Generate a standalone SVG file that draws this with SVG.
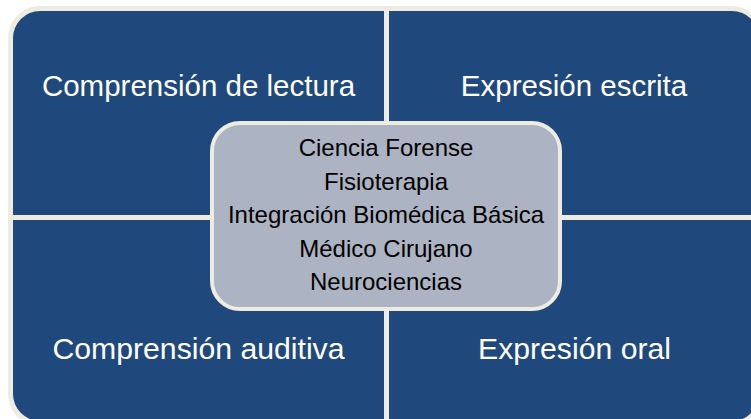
<svg xmlns="http://www.w3.org/2000/svg" width="751" height="419" viewBox="0 0 751 419">
<style>
.quad{fill:#1F497D;}
.qt{font-family:"Liberation Sans",Arial,sans-serif;font-size:29.5px;fill:#FFFFFF;text-anchor:middle;}
.qb{font-size:30.2px;}
.ct{font-family:"Liberation Sans",Arial,sans-serif;font-size:24px;fill:#000000;text-anchor:middle;}
</style>
<rect x="0" y="0" width="751" height="419" fill="#FFFFFF"/>
<rect x="8" y="6" width="756" height="420" rx="32" fill="#EEECE1"/>
<g id="connectors"></g>
<g id="q-comprension-lectura">
<path class="quad" d="M13,215 V38 A27,27 0 0 1 40,11 H384 V215 Z"/>
<text class="qt" x="198.5" y="96">Comprensión de lectura</text>
</g>
<g id="q-expresion-escrita">
<path class="quad" d="M389,11 H732 A27,27 0 0 1 759,38 V215 H389 Z"/>
<text class="qt" x="574" y="96">Expresión escrita</text>
</g>
<g id="q-comprension-auditiva">
<path class="quad" d="M13,220 H384 V421 H40 A27,27 0 0 1 13,394 Z"/>
<text class="qt qb" x="198.5" y="359">Comprensión auditiva</text>
</g>
<g id="q-expresion-oral">
<path class="quad" d="M389,220 H759 V394 A27,27 0 0 1 732,421 H389 Z"/>
<text class="qt qb" x="574.5" y="359">Expresión oral</text>
</g>
<g id="center">
<rect x="212" y="123" width="348" height="186" rx="28" fill="#ACB3C3" stroke="#EEECE1" stroke-width="4"/>
<text class="ct" x="386" y="156">Ciencia Forense</text>
<text class="ct" x="386" y="189.6">Fisioterapia</text>
<text class="ct" x="386" y="223.2">Integración Biomédica Básica</text>
<text class="ct" x="386" y="256.8">Médico Cirujano</text>
<text class="ct" x="386" y="290.4">Neurociencias</text>
</g>
</svg>
